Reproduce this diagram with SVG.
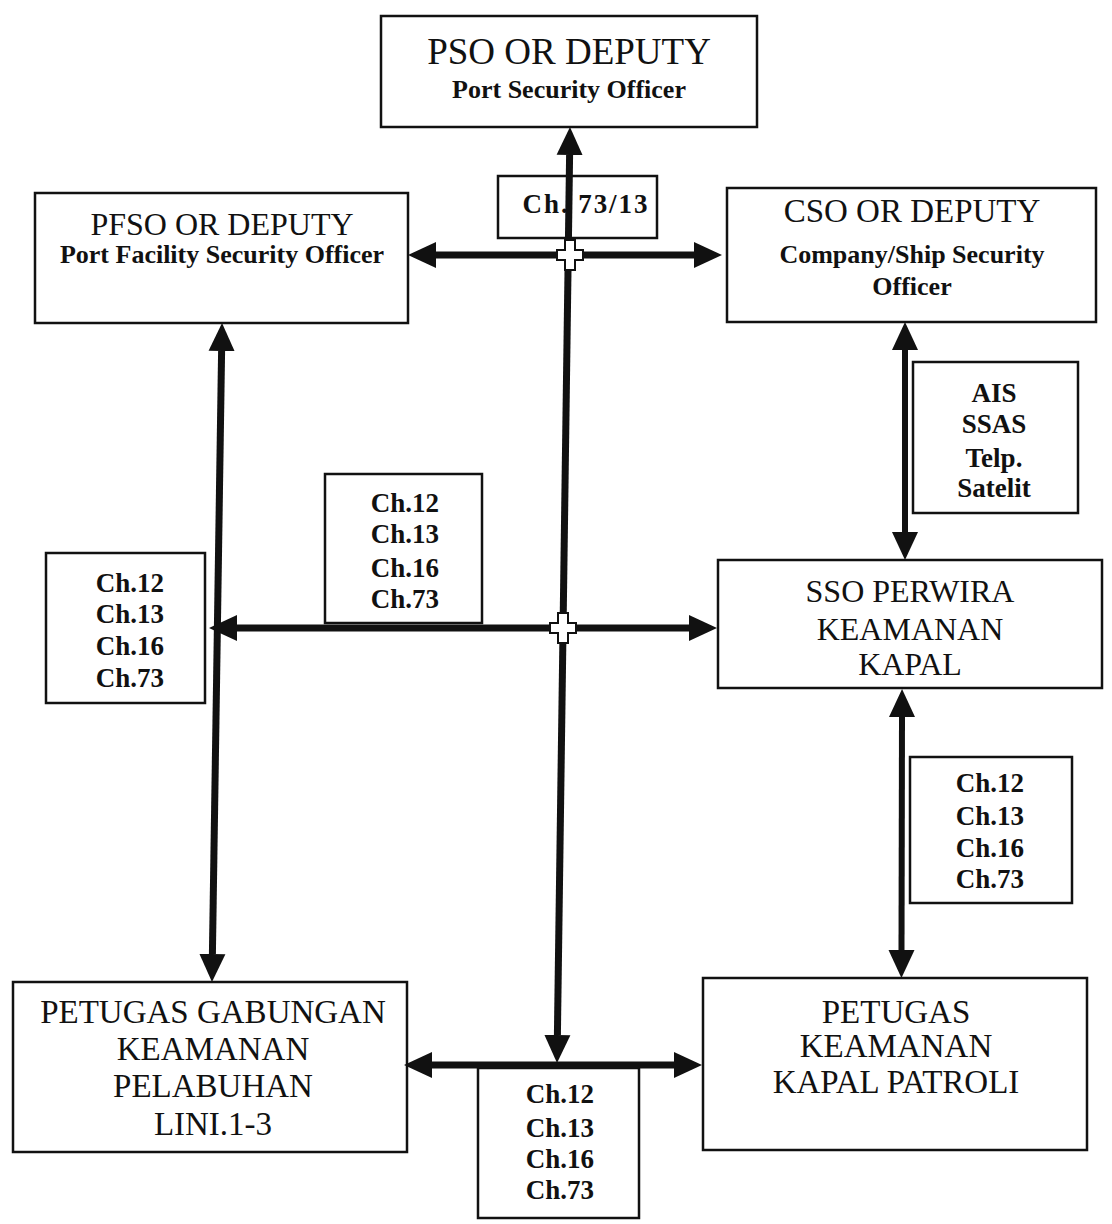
<svg xmlns="http://www.w3.org/2000/svg" width="1112" height="1224" viewBox="0 0 1112 1224">
<style>
.box{fill:#fff;stroke:#111;stroke-width:2.5}
.t{font-family:"Liberation Serif","Times New Roman",serif;fill:#111;text-anchor:middle}
.big{font-size:37px}
.mid{font-size:33px}
.sub{font-size:26px;font-weight:bold}
.ch{font-size:27px;font-weight:bold}
.ln{stroke:#111;stroke-width:7;fill:none;marker-start:url(#ah);marker-end:url(#ah)}
.ln1{stroke:#111;stroke-width:7;fill:none;marker-end:url(#ah)}
.cross{fill:#fff;stroke:#111;stroke-width:2}
</style>
<defs>
<marker id="ah" markerUnits="userSpaceOnUse" markerWidth="28" markerHeight="28" refX="0" refY="13" orient="auto-start-reverse" viewBox="0 0 28 26">
<path d="M0,0 L28,13 L0,26 z" fill="#111"/>
</marker>
</defs>
<rect width="1112" height="1224" fill="#fff"/>

<g id="pso">
<rect class="box" x="381" y="16" width="376" height="111"/>
<text class="t big" x="569" y="64">PSO OR DEPUTY</text>
<text class="t sub" x="569" y="98">Port Security Officer</text>
</g>
<g id="pfso">
<rect class="box" x="35" y="193" width="373" height="130"/>
<text class="t" x="222" y="235" style="font-size:32px">PFSO OR DEPUTY</text>
<text class="t sub" x="222" y="263">Port Facility Security Officer</text>
</g>
<g id="cso">
<rect class="box" x="727" y="188" width="369" height="134"/>
<text class="t mid" x="912" y="222">CSO OR DEPUTY</text>
<text class="t sub" x="912" y="263">Company/Ship Security</text>
<text class="t sub" x="912" y="295">Officer</text>
</g>
<g id="label-ch7313">
<rect class="box" x="498" y="176" width="159" height="62"/>
<text class="t ch" x="585" y="213" textLength="125" lengthAdjust="spacing">Ch. 73/13</text>
</g>
<g id="label-ais">
<rect class="box" x="913" y="362" width="165" height="151"/>
<text class="t ch" x="994" y="402">AIS</text>
<text class="t ch" x="994" y="433">SSAS</text>
<text class="t ch" x="994" y="467">Telp.</text>
<text class="t ch" x="994" y="497">Satelit</text>
</g>
<g id="sso">
<rect class="box" x="718" y="560" width="384" height="128"/>
<text class="t" x="910" y="602" style="font-size:32px">SSO PERWIRA</text>
<text class="t" x="910" y="640" style="font-size:32px">KEAMANAN</text>
<text class="t" x="910" y="675" style="font-size:32px">KAPAL</text>
</g>
<g id="label-ch-right">
<rect class="box" x="910" y="757" width="162" height="146"/>
<text class="t ch" x="990" y="792">Ch.12</text>
<text class="t ch" x="990" y="825">Ch.13</text>
<text class="t ch" x="990" y="857">Ch.16</text>
<text class="t ch" x="990" y="888">Ch.73</text>
</g>
<g id="label-ch-mid">
<rect class="box" x="325" y="474" width="157" height="149"/>
<text class="t ch" x="405" y="512">Ch.12</text>
<text class="t ch" x="405" y="543">Ch.13</text>
<text class="t ch" x="405" y="577">Ch.16</text>
<text class="t ch" x="405" y="608">Ch.73</text>
</g>
<g id="label-ch-left">
<rect class="box" x="46" y="553" width="159" height="150"/>
<text class="t ch" x="130" y="592">Ch.12</text>
<text class="t ch" x="130" y="623">Ch.13</text>
<text class="t ch" x="130" y="655">Ch.16</text>
<text class="t ch" x="130" y="687">Ch.73</text>
</g>
<g id="petugas-gabungan">
<rect class="box" x="13" y="982" width="394" height="170"/>
<text class="t mid" x="213" y="1023">PETUGAS GABUNGAN</text>
<text class="t mid" x="213" y="1060">KEAMANAN</text>
<text class="t mid" x="213" y="1097">PELABUHAN</text>
<text class="t mid" x="213" y="1135">LINI.1-3</text>
</g>
<g id="petugas-kapal">
<rect class="box" x="703" y="978" width="384" height="172"/>
<text class="t mid" x="896" y="1023">PETUGAS</text>
<text class="t mid" x="896" y="1057">KEAMANAN</text>
<text class="t mid" x="896" y="1093">KAPAL PATROLI</text>
</g>
<g id="label-ch-bottom">
<rect class="box" x="478" y="1068" width="161" height="150"/>
<text class="t ch" x="560" y="1103">Ch.12</text>
<text class="t ch" x="560" y="1137">Ch.13</text>
<text class="t ch" x="560" y="1168">Ch.16</text>
<text class="t ch" x="560" y="1199">Ch.73</text>
</g>

<g id="connectors">
<line class="ln" x1="569.6" y1="155" x2="557.4" y2="1035"/>
<line class="ln" x1="436" y1="255" x2="694" y2="255"/>
<line class="ln" x1="221.6" y1="351" x2="212.4" y2="954"/>
<line class="ln" x1="237" y1="628" x2="689" y2="628"/>
<line class="ln" x1="905" y1="350" x2="905" y2="532" style="stroke-width:6"/>
<line class="ln" x1="902" y1="717" x2="901.5" y2="950" style="stroke-width:6"/>
<line class="ln" x1="432" y1="1065" x2="674" y2="1065"/>
<path class="cross" d="M565,240 h10 v10 h8 v10 h-8 v10 h-10 v-10 h-8 v-10 h8 z"/>
<path class="cross" d="M558,613 h10 v10 h8 v10 h-8 v10 h-10 v-10 h-8 v-10 h8 z"/>
</g>
</svg>
